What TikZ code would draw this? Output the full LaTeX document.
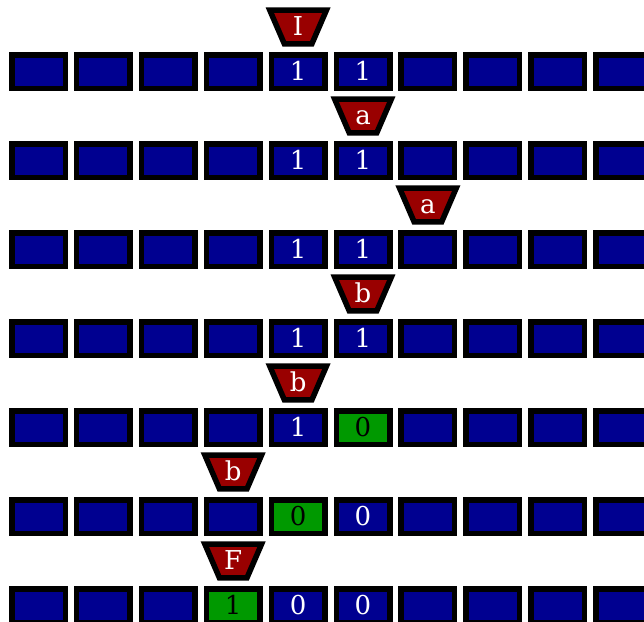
\documentclass[tikz,border=0pt]{standalone}
\usepackage{fontspec}
\setmainfont{DejaVu Serif}
\definecolor{tapeblue}{RGB}{0,0,144}
\definecolor{headred}{RGB}{153,0,0}
\definecolor{cellgreen}{RGB}{0,153,0}
\newcommand\tmrow[2]{%
  \foreach \t/\s [count=\i from 0] in {#2}{%
    \node[cell,\s] (c-#1-\i) at ({38.5+64.9*\i},{71.5+89*#1}) {\t};
  }%
}
\newcommand\tmhead[3]{%
  \coordinate (hc-#1) at ({38.5+64.9*#2},{71.5+89*#1-44.5});
  \draw[headshape,shift={(hc-#1)}] (-28.3,-16.8) -- (28.3,-16.8) -- (13.8,16.8) -- (-13.8,16.8) -- cycle;
  \node[headlbl] (h-#1) at (hc-#1) {#3};
}
\begin{document}
\begin{tikzpicture}[x=1pt,y=-1pt,
  cell/.style={draw=black,line width=5.5pt,fill=tapeblue,minimum width=53.5pt,minimum height=33.5pt,
    inner sep=0pt,text=white,text height=17.5pt,text depth=0pt,font=\fontsize{26}{27}\selectfont},
  cb/.style={},
  cg/.style={fill=cellgreen,text=black},
  headshape/.style={draw=black,line width=5.5pt,fill=headred,line join=miter},
  headlbl/.style={inner sep=0pt,text=white,text height=17.5pt,text depth=0pt,font=\fontsize{26}{27}\selectfont}
]
\useasboundingbox (0,0) rectangle (644,621);
\tmrow{0}{{}/cb,{}/cb,{}/cb,{}/cb,1/cb,1/cb,{}/cb,{}/cb,{}/cb,{}/cb}
\tmrow{1}{{}/cb,{}/cb,{}/cb,{}/cb,1/cb,1/cb,{}/cb,{}/cb,{}/cb,{}/cb}
\tmrow{2}{{}/cb,{}/cb,{}/cb,{}/cb,1/cb,1/cb,{}/cb,{}/cb,{}/cb,{}/cb}
\tmrow{3}{{}/cb,{}/cb,{}/cb,{}/cb,1/cb,1/cb,{}/cb,{}/cb,{}/cb,{}/cb}
\tmrow{4}{{}/cb,{}/cb,{}/cb,{}/cb,1/cb,0/cg,{}/cb,{}/cb,{}/cb,{}/cb}
\tmrow{5}{{}/cb,{}/cb,{}/cb,{}/cb,0/cg,0/cb,{}/cb,{}/cb,{}/cb,{}/cb}
\tmrow{6}{{}/cb,{}/cb,{}/cb,1/cg,0/cb,0/cb,{}/cb,{}/cb,{}/cb,{}/cb}
\tmhead{0}{4}{I}
\tmhead{1}{5}{a}
\tmhead{2}{6}{a}
\tmhead{3}{5}{b}
\tmhead{4}{4}{b}
\tmhead{5}{3}{b}
\tmhead{6}{3}{F}
\end{tikzpicture}
\end{document}
